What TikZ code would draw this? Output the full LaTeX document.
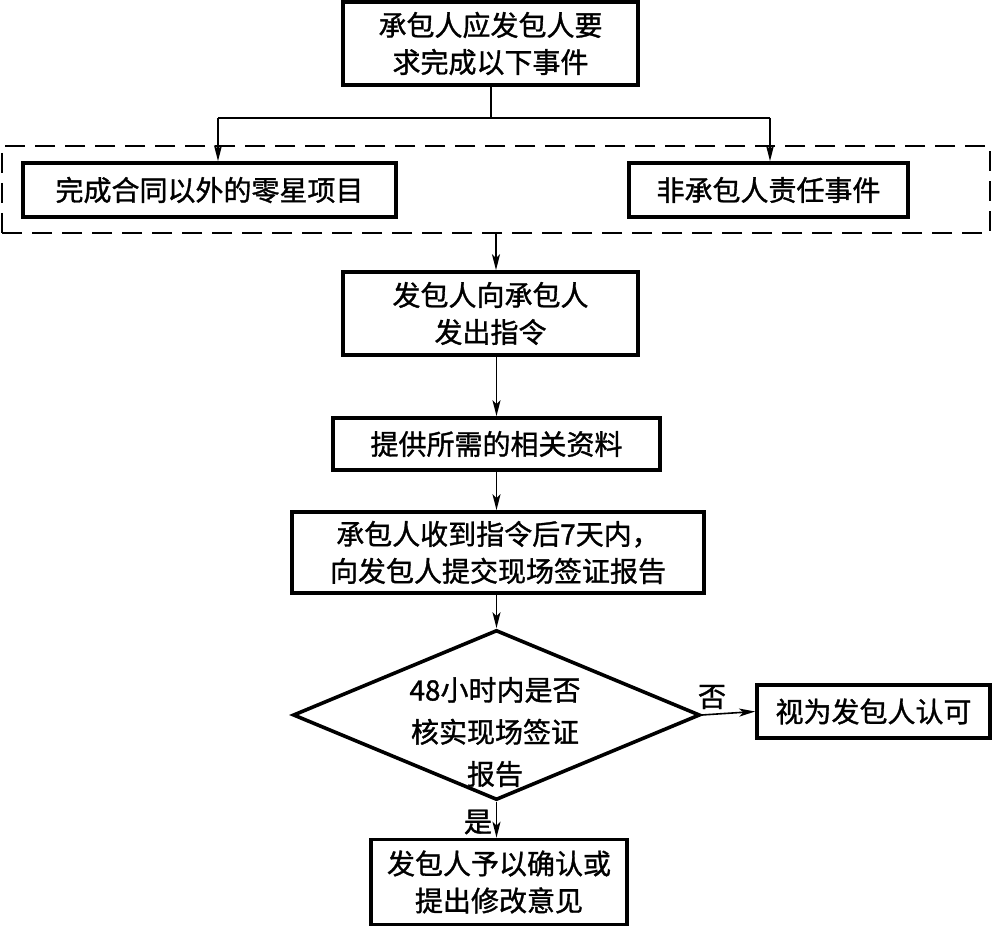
\documentclass[tikz,border=0pt]{standalone}
\usepackage{fontspec}
\newfontfamily\cjk[FakeBold=1.2]{Noto Sans CJK SC}
\usetikzlibrary{shapes.geometric,arrows.meta}
\begin{document}
\begin{tikzpicture}[x=1pt,y=-1pt,
  every node/.style={font=\cjk\fontsize{28}{37}\selectfont, align=center, inner sep=0pt},
  bx/.style={draw, line width=3.6pt, rectangle},
  conn/.style={line width=1.6pt},
  arr/.style={conn, -{Stealth[length=16pt,width=8pt,inset=4pt]}},
  lbl/.style={font=\cjk\fontsize{28}{37}\selectfont}
]
\useasboundingbox (0,0) rectangle (999,928);
\node[bx, minimum width=295, minimum height=83] (top) at (490.5,43.5) {承包人应发包人要\\求完成以下事件};
\node[draw, dash pattern=on 20pt off 10pt, line width=1.6pt, minimum width=988, minimum height=87] (dash) at (496,189.5) {};
\node[bx, minimum width=373, minimum height=54] (left) at (209.5,190) {完成合同以外的零星项目};
\node[bx, minimum width=279, minimum height=54] (right) at (768.5,190) {非承包人责任事件};
\node[bx, minimum width=295, minimum height=83] (b3) at (490.5,313.5) {发包人向承包人\\发出指令};
\node[bx, minimum width=327, minimum height=52] (b4) at (496.5,444) {提供所需的相关资料};
\node[bx, minimum width=412, minimum height=81] (b5) at (498,552.5) {承包人收到指令后7天内，\\向发包人提交现场签证报告};
\node[draw, diamond, line width=3.6pt, minimum width=407, minimum height=170] (dia) at (496.5,715) {};
\node[font=\cjk\fontsize{28}{42}\selectfont] (diat) at (495,732) {48小时内是否\\核实现场签证\\报告};
\node[bx, minimum width=233, minimum height=53] (yes) at (873.5,711.5) {视为发包人认可};
\node[bx, minimum width=256, minimum height=85] (bot) at (499,882) {发包人予以确认或\\提出修改意见};
\coordinate (j) at (491,118);
\coordinate (jl) at (218,118);
\coordinate (jr) at (770,118);
\draw[conn] (top.south -| j) -- (j);
\draw[conn] (jl) -- (jr);
\draw[arr] (jl) -- (jl |- left.north);
\draw[arr] (jr) -- (jr |- right.north);
\draw[arr] (b3.north |- dash.south) ++(5.5,0) coordinate (ds) -- (ds |- b3.north);
\draw[arr] (b3.south -| b4.north) -- (b4.north);
\draw[arr] (b4.south) -- (b4.south |- b5.north);
\draw[arr] (b5.south -| dia.north) -- (dia.north);
\draw[arr] (dia.east) -- (yes.west);
\draw[arr] (dia.south) -- (dia.south |- bot.north);
\node[lbl] (no) at (712,697) {否};
\node[lbl] (yesl) at (478,822) {是};
\end{tikzpicture}
\end{document}
